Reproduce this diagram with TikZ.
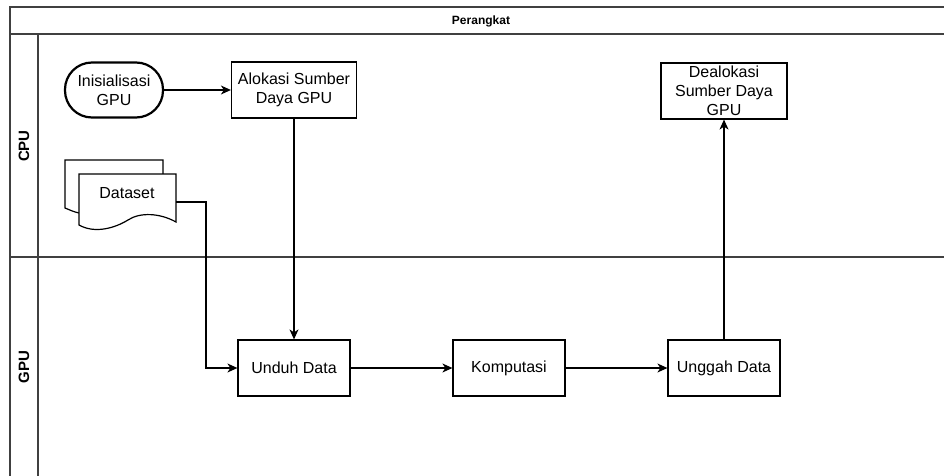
\documentclass[tikz,border=0pt]{standalone}
\usepackage{fontspec}
\setmainfont{Liberation Sans}
\usetikzlibrary{arrows.meta}

\begin{document}
\begin{tikzpicture}[x=1pt,y=-1pt,
		line width=1.2pt,
		prosesbox/.style={draw, rectangle, minimum width=112pt, minimum height=56pt, inner sep=0pt, align=center, font=\fontsize{16}{19}\selectfont},
		terminal/.style={draw, rounded corners=27pt, line width=2.2pt, minimum width=98pt, minimum height=55pt, inner sep=0pt, align=center, font=\fontsize{16}{19}\selectfont},
		lane/.style={line width=1.5pt, black!75},
		lanelabel/.style={rotate=90, font=\fontsize{15}{18}\selectfont\bfseries},
		flow/.style={-{Stealth[length=10pt,width=9pt,inset=3pt]}}]
	\useasboundingbox (0,0) rectangle (944,476);
	\draw[lane] (10,476) -- (10,7) -- (944,7);
	\draw[lane] (10,34) -- (944,34);
	\draw[lane] (38,34) -- (38,476);
	\draw[lane] (10,257) -- (944,257);
	\node[font=\fontsize{12}{14}\selectfont\bfseries] (perangkat) at (481,21) {Perangkat};
	\node[lanelabel] (cpu) at (24,146) {CPU};
	\node[lanelabel] (gpu) at (24,367) {GPU};

	\node[terminal] (init) at (114,90) {Inisialisasi\\GPU};
	\node[prosesbox, minimum width=125pt] (alokasi) at (294,90) {Alokasi Sumber\\Daya GPU};
	\node[prosesbox, minimum width=126pt] (dealokasi) at (724,91) {Dealokasi\\Sumber Daya\\GPU};
	\node[prosesbox] (unduh) at (294,368) {Unduh Data};
	\node[prosesbox] (komputasi) at (509,368) {Komputasi};
	\node[prosesbox] (unggah) at (724,368) {Unggah Data};

	\draw[fill=white] (163,174) -- (163,160) -- (65,160) -- (65,208) .. controls (70,210) and (74,212) .. (79,213);
	\draw[fill=white] (79,225) -- (79,174) -- (176,174) -- (176,222) .. controls (160,213) and (140,212) .. (128,220) .. controls (115,228) and (95,234) .. (79,225) -- cycle;
	\node[font=\fontsize{16}{19}\selectfont] (dataset) at (127,193) {Dataset};
	\coordinate (dsout) at (176,202);
	\coordinate (dsbend) at (206,202);

	\path[flow]
	(init) edge (alokasi)
	(alokasi) edge (unduh)
	(unduh) edge (komputasi)
	(komputasi) edge (unggah)
	(unggah) edge (dealokasi);
	\draw[flow] (dsout) -- (dsbend) |- (unduh.west);
\end{tikzpicture}
\end{document}
